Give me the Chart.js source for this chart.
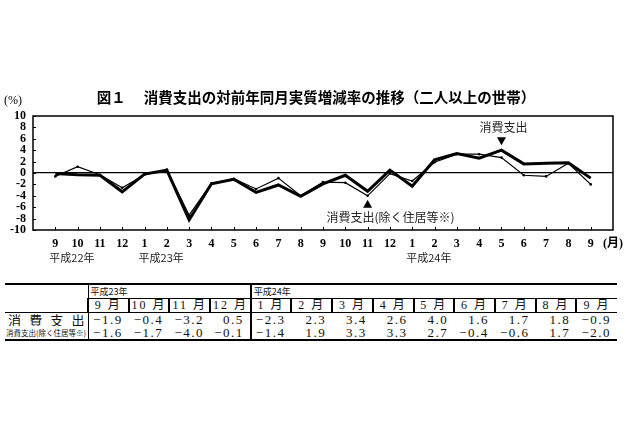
<!DOCTYPE html>
<html lang="ja">
<head>
<meta charset="utf-8">
<script src="https://cdn.jsdelivr.net/npm/chart.js@4.4.1/dist/chart.umd.min.js"></script>
<style>
    html, body { margin: 0; padding: 0; background: #fff; }
    body { width: 640px; height: 426px; position: relative; overflow: hidden; }
    #chart { position: absolute; left: 0; top: 0; }
    #tbl {
        position: absolute; left: 5px; top: 283px; width: 612px;
        border-collapse: collapse; table-layout: fixed;
        font-family: "Liberation Serif", "Noto Sans CJK JP", serif; color: #111;
        border-top: 2px solid #000; border-bottom: 2px solid #000;
    }
    #tbl td { padding: 0; white-space: nowrap; overflow: hidden; }
    #tbl tr.yr td { height: 13px; font-size: 9px; line-height: 13px; padding-left: 2px; font-family: "Noto Sans CJK JP"; }
    #tbl tr.mo td { height: 13px; font-size: 12px; line-height: 13px; text-align: center; letter-spacing: 2px; border-left: 2px solid #000; border-top: 1px solid #000; border-bottom: 1px solid #000; }
    #tbl tr.val td { height: 13px; font-size: 13px; line-height: 13px; text-align: right; padding-right: 6px; letter-spacing: 1.5px; }
    #tbl tr.val td.lab, #tbl tr.yr td.lab { border-right: 1px solid #000; text-align: left; padding: 0 3px; letter-spacing: 0; font-family: "Noto Sans CJK JP"; }
    #tbl tr.val td.lab1 { font-size: 13px; }
    #tbl tr.val td.lab1 div { display: flex; justify-content: space-between; }
    #tbl tr.val td.lab2 { font-size: 7.5px; padding: 0 1px; }
    #tbl tr td.sep { border-left: 2px solid #000; }
</style>
</head>
<body>
<canvas id="chart" width="640" height="280"></canvas>
<table id="tbl"></table>
<script>
    // ---- datos ----
    const monthLabels = ['9', '10', '11', '12', '1', '2', '3', '4', '5', '6', '7', '8',
        '9', '10', '11', '12', '1', '2', '3', '4', '5', '6', '7', '8', '9'];
    const yearText = ['平成22年', '平成23年', '平成24年'];
    const yearIndex = [0, 4, 16];

    // 消費支出 (実質, 対前年同月比 %)
    const spending = [-0.1, -0.3, -0.4, -3.3, -0.2, 0.5, -8.2, -1.9, -1.1, -3.4, -2.1, -4.1,
        -1.9, -0.4, -3.2, 0.5, -2.3, 2.3, 3.4, 2.6, 4.0, 1.6, 1.7, 1.8, -0.9];
    // 消費支出（除く住居等）
    const spendingExHousing = [-0.6, 1.1, -0.3, -2.6, -0.3, 0.6, -7.4, -1.8, -1.0, -2.8, -0.9, -4.0,
        -1.6, -1.7, -4.0, -0.1, -1.4, 1.9, 3.3, 3.3, 2.7, -0.4, -0.6, 1.7, -2.0];

    const yTicks = [-10, -8, -6, -4, -2, 0, 2, 4, 6, 8, 10];
    const calloutText = ['消費支出', '消費支出(除く住居等※)'];
    const calloutIndex = [20, 14];

    const tableStart = 12; // 平成23年9月から表に出す
    const tableYears = ['平成23年', '平成24年'];
    const tableYearSpan = [4, 9];

    const JP = '"Noto Sans CJK JP", sans-serif';
    const SERIF = '"Liberation Serif", "Noto Sans CJK JP", serif';

    function toPoints(arr) {
        return arr.map((v, i) => ({ x: i, y: v }));
    }

    function fmt(v) {
        return v.toFixed(1).replace('-', '−');
    }

    // ---- decoraciones: marco, ticks interiores, textos ----
    const decor = {
        id: 'decor',
        afterDraw(chart) {
            const ctx = chart.ctx;
            const a = chart.chartArea;
            const x = chart.scales.x;
            const y = chart.scales.y;
            ctx.save();

            ctx.strokeStyle = '#000';
            ctx.lineWidth = 1;
            ctx.beginPath();
            monthLabels.forEach((m, i) => {
                const px = Math.round(x.getPixelForValue(i)) + 0.5;
                ctx.moveTo(px, a.bottom);
                ctx.lineTo(px, a.bottom - 3);
            });
            yTicks.forEach(v => {
                const py = Math.round(y.getPixelForValue(v)) + 0.5;
                ctx.moveTo(a.left, py);
                ctx.lineTo(a.left + 3, py);
            });
            ctx.stroke();

            ctx.lineWidth = 1.5;
            ctx.strokeRect(a.left, a.top, a.right - a.left, a.bottom - a.top);

            // título
            ctx.fillStyle = '#000';
            ctx.font = 'bold 14.5px ' + JP;
            ctx.textAlign = 'center';
            ctx.textBaseline = 'middle';
            ctx.fillText('図１　 消費支出の対前年同月実質増減率の推移（二人以上の世帯）', 316, 97);

            ctx.font = '12px ' + SERIF;
            ctx.textAlign = 'left';
            ctx.fillText('(%)', 4, 101);

            // años bajo el eje
            ctx.font = '11px ' + JP;
            ctx.fillStyle = '#222';
            yearText.forEach((t, k) => {
                ctx.fillText(t, x.getPixelForValue(yearIndex[k]) - 6, 258);
            });

            // llamadas
            ctx.fillStyle = '#000';
            const px0 = x.getPixelForValue(calloutIndex[0]);
            const py0 = y.getPixelForValue(spending[calloutIndex[0]]) - 5;
            ctx.beginPath();
            ctx.moveTo(px0, py0);
            ctx.lineTo(px0 - 4.5, py0 - 8);
            ctx.lineTo(px0 + 4.5, py0 - 8);
            ctx.closePath();
            ctx.fill();
            ctx.font = '12px ' + JP;
            ctx.textAlign = 'center';
            ctx.fillStyle = '#222';
            ctx.fillText(calloutText[0], px0 + 2, py0 - 18);

            ctx.fillStyle = '#000';
            const px1 = x.getPixelForValue(calloutIndex[1]);
            const py1 = y.getPixelForValue(spendingExHousing[calloutIndex[1]]) + 4;
            ctx.beginPath();
            ctx.moveTo(px1, py1);
            ctx.lineTo(px1 - 4.5, py1 + 8);
            ctx.lineTo(px1 + 4.5, py1 + 8);
            ctx.closePath();
            ctx.fill();
            ctx.fillStyle = '#222';
            ctx.fillText(calloutText[1], px1 + 23, py1 + 18);

            ctx.restore();
        }
    };

    new Chart(document.getElementById('chart').getContext('2d'), {
        type: 'line',
        data: {
            datasets: [
                {
                    label: '消費支出(除く住居等※)',
                    data: toPoints(spendingExHousing),
                    borderColor: '#000',
                    backgroundColor: '#000',
                    borderWidth: 1.2,
                    pointRadius: 1.3,
                    pointBorderWidth: 0,
                    tension: 0
                },
                {
                    label: '消費支出',
                    data: toPoints(spending),
                    borderColor: '#000',
                    borderWidth: 3,
                    pointRadius: 0,
                    tension: 0
                }
            ]
        },
        options: {
            responsive: false,
            animation: false,
            devicePixelRatio: 1,
            layout: { padding: { top: 116, right: 27, left: 0, bottom: 0 } },
            plugins: {
                legend: { display: false },
                tooltip: { enabled: false }
            },
            scales: {
                x: {
                    type: 'linear',
                    min: -1,
                    max: 25,
                    afterFit: s => { s.height = 50; },
                    afterBuildTicks: s => {
                        s.ticks = monthLabels.map((m, i) => ({ value: i })).concat([{ value: 25 }]);
                    },
                    ticks: {
                        autoSkip: false,
                        maxRotation: 0,
                        padding: 7,
                        color: '#000',
                        font: { family: SERIF, size: 12, weight: 'bold' },
                        callback: v => (v === 25 ? '(月)' : (monthLabels[v] ?? ''))
                    },
                    grid: { display: false, drawTicks: false },
                    border: { display: false }
                },
                y: {
                    min: -10,
                    max: 10,
                    afterFit: s => { s.width = 33; },
                    afterBuildTicks: s => {
                        s.ticks = yTicks.map(v => ({ value: v }));
                    },
                    ticks: {
                        autoSkip: false,
                        padding: 7,
                        color: '#000',
                        font: { family: SERIF, size: 12, weight: 'bold' }
                    },
                    grid: {
                        drawTicks: false,
                        lineWidth: 1.2,
                        color: c => (c.tick && c.tick.value === 0 ? '#000' : 'rgba(0,0,0,0)')
                    },
                    border: { display: false }
                }
            }
        },
        plugins: [decor]
    });

    // ---- tabla ----
    function buildTable() {
        const tbl = document.getElementById('tbl');
        const months = monthLabels.slice(tableStart);
        const v1 = spending.slice(tableStart);
        const v2 = spendingExHousing.slice(tableStart);

        let html = '<colgroup><col style="width:83px">' +
            months.map(() => '<col>').join('') + '</colgroup>';

        html += '<tr class="yr"><td rowspan="2" class="lab" style="border-bottom:1px solid #000"></td>';
        tableYears.forEach((t, k) => {
            html += `<td colspan="${tableYearSpan[k]}"${k > 0 ? ' class="sep"' : ''}>${t}</td>`;
        });
        html += '</tr>';

        html += '<tr class="mo">' + months.map(m => `<td>${m} 月</td>`).join('') + '</tr>';

        const sepCol = tableYearSpan[0];
        const lab1 = calloutText[0].split('').map(c => `<span>${c}</span>`).join('');
        html += `<tr class="val"><td class="lab lab1"><div>${lab1}</div></td>` +
            v1.map((v, i) => `<td${i === sepCol ? ' class="sep"' : ''}>${fmt(v)}</td>`).join('') + '</tr>';
        html += `<tr class="val"><td class="lab lab2">${calloutText[1]}</td>` +
            v2.map((v, i) => `<td${i === sepCol ? ' class="sep"' : ''}>${fmt(v)}</td>`).join('') + '</tr>';

        tbl.innerHTML = html;
    }

    buildTable();
</script>
</body>
</html>
